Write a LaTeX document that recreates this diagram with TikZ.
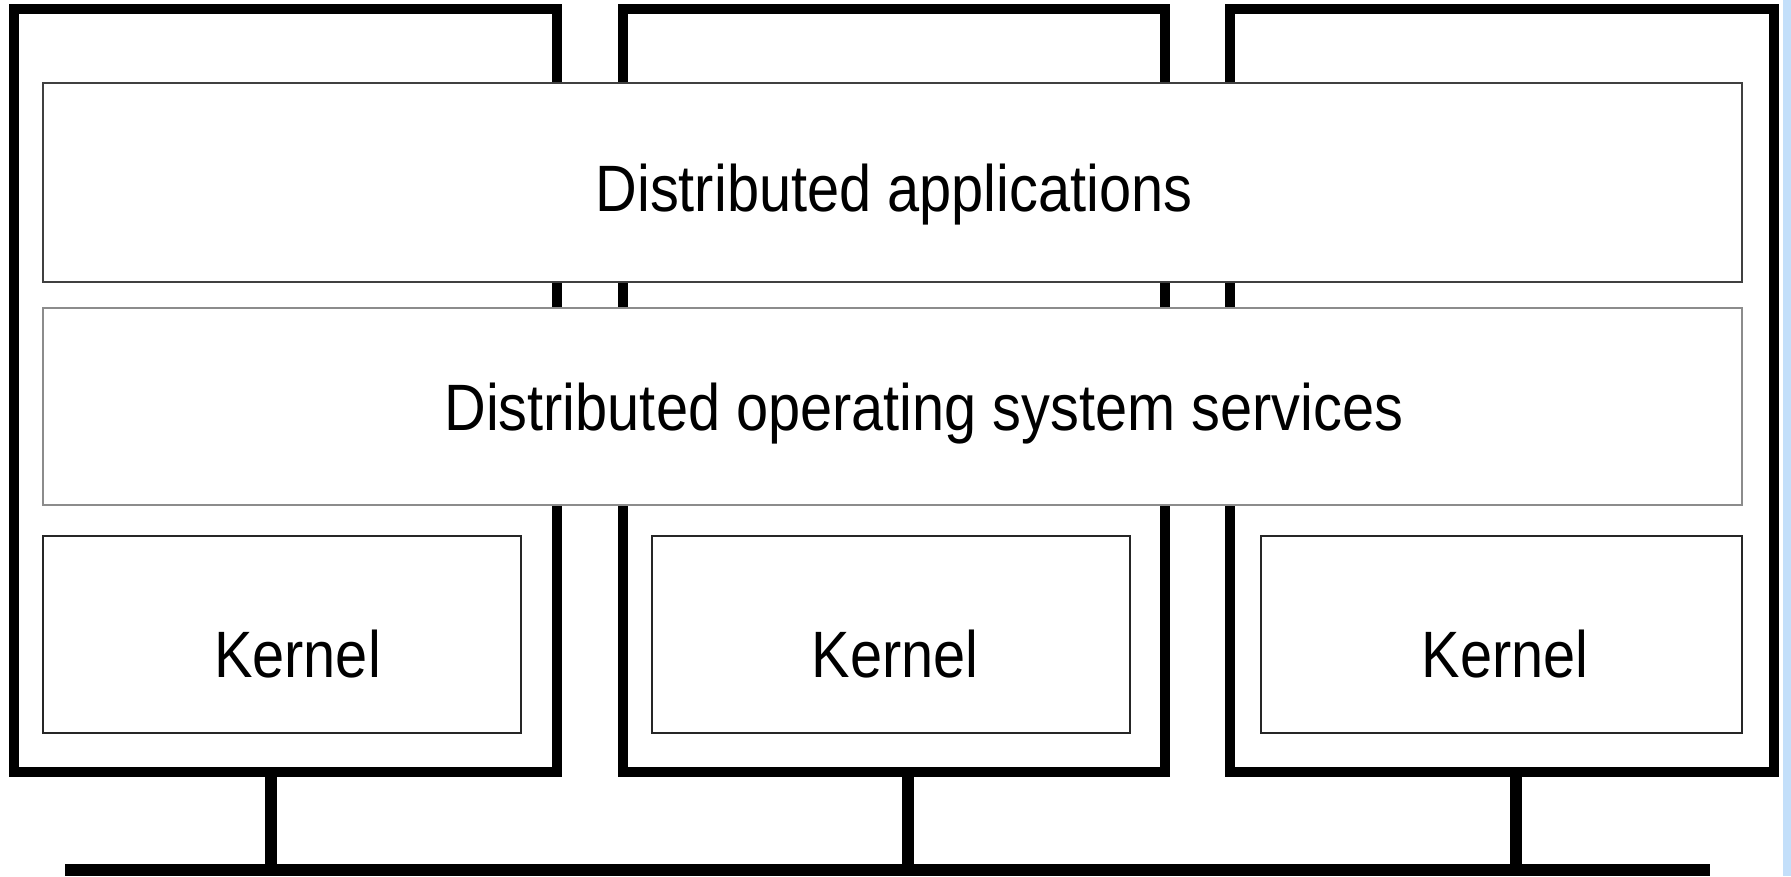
\documentclass[tikz,border=0pt]{standalone}
\usepackage{fontspec}
\setmainfont{Liberation Sans}
\usepackage{graphicx}
\definecolor{stripblue}{HTML}{C3DFFA}
\tikzset{
  machine/.style={draw=black, line width=10pt, line join=miter, fill=none,
    inner sep=0pt, outer sep=0pt},
  layerbox/.style={draw=#1, line width=2.8pt, fill=white, inner sep=0pt, outer sep=0pt},
  kernelbox/.style={draw=black!85, line width=2.8pt, fill=white, inner sep=0pt, outer sep=0pt},
  lbl/.style={anchor=base, inner sep=0pt, font=\fontsize{65.6}{70}\selectfont},
  wire/.style={draw=black, line width=12pt},
}
\newcommand{\narrow}[1]{\scalebox{0.88}[1]{#1}}
\begin{document}
\begin{tikzpicture}[x=1pt, y=-1pt]
  \useasboundingbox (0,0) rectangle (1791,876);
  \fill[white] (0,0) rectangle (1791,876);

  % three machines
  \node[machine, minimum width=543pt, minimum height=763pt] (m1) at (285.5,390.5) {};
  \node[machine, minimum width=542.5pt, minimum height=763pt] (m2) at (893.75,390.5) {};
  \node[machine, minimum width=544pt, minimum height=763pt] (m3) at (1502,390.5) {};

  % shared layers across all machines
  \node[layerbox=black!75, minimum width=1699pt, minimum height=199pt] (apps) at (892.5,182.5) {};
  \node[layerbox=black!45, minimum width=1699pt, minimum height=197pt] (dos) at (892.5,406.5) {};
  \node[lbl] (appslbl) at (894,211) {\narrow{Distributed applications}};
  \node[lbl] (doslbl) at (924,430) {\narrow{Distributed operating system services}};

  % one kernel per machine
  \node[kernelbox, minimum width=478pt, minimum height=197pt] (k1) at (282,634.5) {};
  \node[kernelbox, minimum width=478pt, minimum height=197pt] (k2) at (891,634.5) {};
  \node[kernelbox, minimum width=481pt, minimum height=197pt] (k3) at (1501.5,634.5) {};
  \node[lbl] (k1lbl) at (297.5,677) {\narrow{Kernel}};
  \node[lbl] (k2lbl) at (895,677) {\narrow{Kernel}};
  \node[lbl] (k3lbl) at (1505,677) {\narrow{Kernel}};

  % network bus
  \coordinate (busL) at (65,870);
  \coordinate (busR) at (1710,870);
  \draw[wire] (busL) -- (busR);

  % machine-to-bus links, from the bottom edge of each machine
  \coordinate (t1) at ([xshift=-14.5pt]m1.south);
  \coordinate (t2) at ([xshift=14.25pt]m2.south);
  \coordinate (t3) at ([xshift=14pt]m3.south);
  \draw[wire] (t1) -- (t1 |- busL);
  \draw[wire] (t2) -- (t2 |- busL);
  \draw[wire] (t3) -- (t3 |- busL);

  % edge strip
  \fill[stripblue] (1783,0) rectangle (1791,876);
\end{tikzpicture}
\end{document}
